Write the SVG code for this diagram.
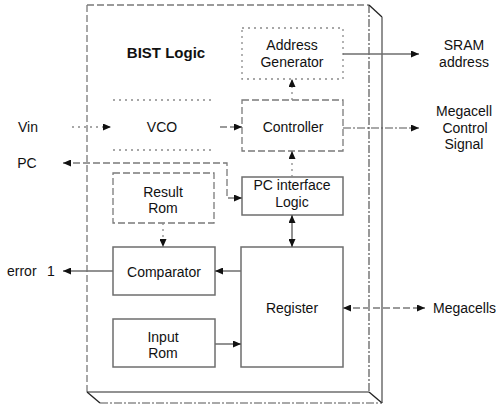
<svg xmlns="http://www.w3.org/2000/svg" width="496" height="407" viewBox="0 0 496 407">
<style>
text{font-family:"Liberation Sans",Arial,sans-serif;font-size:14px;fill:#111}
.c{text-anchor:middle}
.b{font-weight:bold;font-size:15px}
.solid{fill:none;stroke:#6e6e6e;stroke-width:1.5}
.dash{fill:none;stroke:#7a7a7a;stroke-width:1.3;stroke-dasharray:7 3}
.dot{fill:none;stroke:#8a8a8a;stroke-width:1.3;stroke-dasharray:2 4}
.dd{fill:none;stroke:#555;stroke-width:1.2;stroke-dasharray:8 2 2 2}
.edge{fill:none;stroke:#222;stroke-width:1.3}
.arr{marker-end:url(#ah)}
.arr2{marker-start:url(#ah);marker-end:url(#ah)}
</style>
<defs>
<marker id="ah" markerUnits="userSpaceOnUse" markerWidth="8" markerHeight="7" refX="8" refY="3.5" orient="auto-start-reverse">
<path d="M0,0 L8,3.5 L0,7 z" fill="#111"/>
</marker>
</defs>
<rect width="496" height="407" fill="#fff"/>
<g id="chip">
<path class="dash" d="M87,5 H369"/>
<path class="dash" d="M87,5 V392"/>
<path class="dd" d="M369,5 V392"/>
<path class="solid" d="M87,392 H369"/>
<path class="edge" d="M369,5 L382,17"/>
<path class="solid" d="M382,17 V403"/>
<path class="edge" d="M87,392 L100,403"/>
<path class="edge" d="M369,392 L382,403"/>
<path class="dd" d="M100,403 H382"/>
<text class="b" x="166" y="58" text-anchor="middle">BIST Logic</text>
</g>
<g id="addrgen">
<rect class="dot" x="242" y="28" width="101" height="51"/>
<text class="c" x="292" y="50">Address</text>
<text class="c" x="292" y="67">Generator</text>
</g>
<g id="vco">
<path class="dot" d="M113,100 H213 M113,150 H213"/>
<text class="c" x="162" y="132">VCO</text>
</g>
<g id="controller">
<rect class="dash" x="242" y="100" width="101" height="51"/>
<text class="c" x="293" y="132">Controller</text>
</g>
<g id="resultrom">
<rect class="dash" x="113" y="173" width="101" height="50"/>
<text class="c" x="163" y="197">Result</text>
<text class="c" x="163" y="213">Rom</text>
</g>
<g id="pcif">
<rect class="solid" x="242" y="177" width="101" height="38"/>
<text class="c" x="292" y="190">PC interface</text>
<text class="c" x="292" y="207">Logic</text>
</g>
<g id="comparator">
<rect class="solid" x="113" y="247" width="102" height="48"/>
<text class="c" x="164" y="277">Comparator</text>
</g>
<g id="register">
<rect class="solid" x="241" y="247" width="102" height="120"/>
<text class="c" x="292" y="313">Register</text>
</g>
<g id="inputrom">
<rect class="solid" x="113" y="319" width="102" height="48"/>
<text class="c" x="163" y="342">Input</text>
<text class="c" x="163" y="358">Rom</text>
</g>
<g id="vin"><text class="c" x="28" y="132">Vin</text></g>
<g id="pc"><text class="c" x="27" y="168">PC</text></g>
<g id="error"><text x="7" y="276">error <tspan x="47">1</tspan></text></g>
<g id="sram">
<text class="c" x="464" y="50">SRAM</text>
<text class="c" x="464" y="67">address</text>
</g>
<g id="megacellctl">
<text class="c" x="464" y="116">Megacell</text>
<text class="c" x="465" y="133">Control</text>
<text class="c" x="464" y="149">Signal</text>
</g>
<g id="megacells"><text x="433" y="313">Megacells</text></g>
<g id="connectors">
<path class="dot arr" d="M72,127 H111"/>
<path class="dash arr" d="M220,127 H242"/>
<path class="dot arr" d="M292,100 V79"/>
<path class="solid arr" d="M343,54 H419"/>
<path class="dd arr" d="M343,128 H419"/>
<path class="dot arr" d="M292,177 V151"/>
<path class="dash arr2" d="M63,163 H227 V198 H242"/>
<path class="solid arr2" d="M292,215 V247"/>
<path class="dot arr" d="M163,223 V247"/>
<path class="solid arr" d="M241,271 H215"/>
<path class="solid arr" d="M215,344 H241"/>
<path class="solid arr" d="M113,271 H63"/>
<path class="dash arr2" d="M343,308 H425"/>
</g>
</svg>
